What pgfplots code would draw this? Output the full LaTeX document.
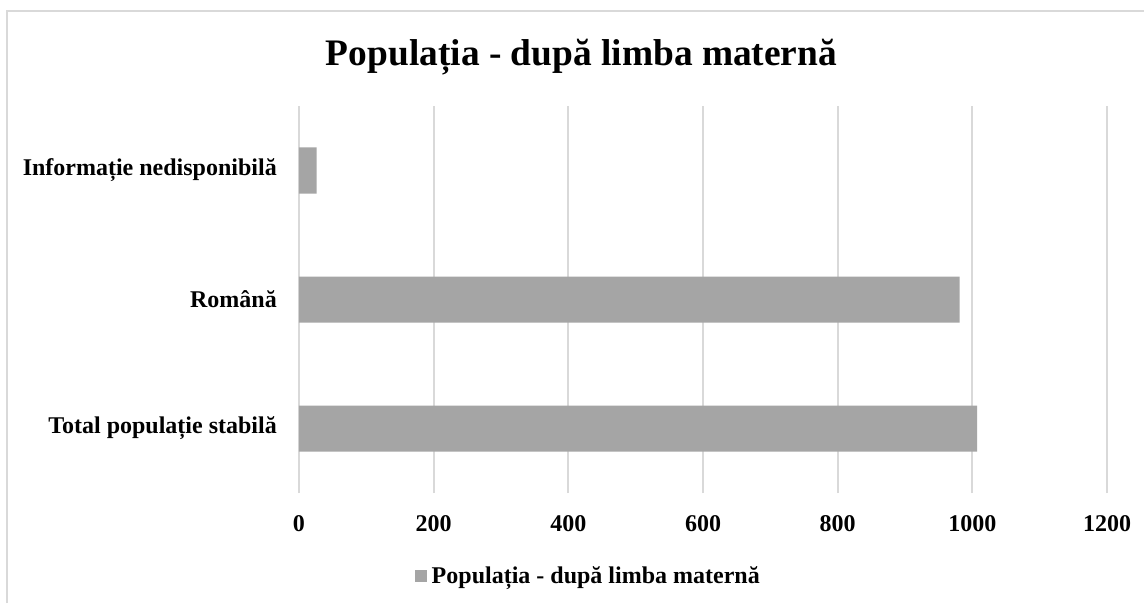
\documentclass[border=0pt]{standalone}
\usepackage{pgfplots}
\pgfplotsset{compat=1.18}
\usepackage{fontspec}
\setmainfont{Liberation Serif}
\definecolor{bargray}{HTML}{A5A5A5}
\definecolor{gridgray}{HTML}{D9D9D9}
\begin{document}
\begin{tikzpicture}
\useasboundingbox (0,0) rectangle (1144pt,603pt);
\fill[white] (0,0) rectangle (1144pt,603pt);
\draw[gridgray, line width=1.2pt] (7pt,0pt) -- (7pt,592pt) -- (1144pt,592pt);
\node[anchor=base, font=\fontsize{37.4}{40}\selectfont\bfseries, inner sep=0pt] at (581.5pt,537pt) {Populația - după limba maternă};
\begin{axis}[
 at={(299pt,110pt)}, anchor=south west,
 scale only axis, width=808pt, height=387pt,
 xbar, bar width=46pt,
 xmin=0, xmax=1200, ymin=-0.5, ymax=2.5,
 xtick={0,200,...,1200}, ytick={0,1,2},
 yticklabels={Total populație stabilă, Română, Informație nedisponibilă},
 xmajorgrids, major grid style={gridgray, line width=2pt},
 axis line style={draw=none},
 major tick length=0pt,
 tick label style={font=\fontsize{24}{28}\selectfont\bfseries},
 /pgf/number format/assume math mode=true,
 /pgf/number format/1000 sep={},
 xticklabel style={anchor=north, inner sep=0pt, yshift=-22pt},
 yticklabel style={anchor=east, inner sep=0pt, xshift=-22pt},
 legend style={at={(0.358,-0.215)}, anchor=center, draw=none, fill=none,
   font=\fontsize{24}{28}\selectfont\bfseries},
]
\addplot[fill=bargray, draw=none,
  legend image code/.code={\fill[bargray] (0pt,-6pt) rectangle (12pt,6pt); \path (15pt,0pt);}]
  coordinates {(1007,0) (981,1) (26,2)};
\addlegendentry{Populația - după limba maternă}
\end{axis}
\end{tikzpicture}
\end{document}
